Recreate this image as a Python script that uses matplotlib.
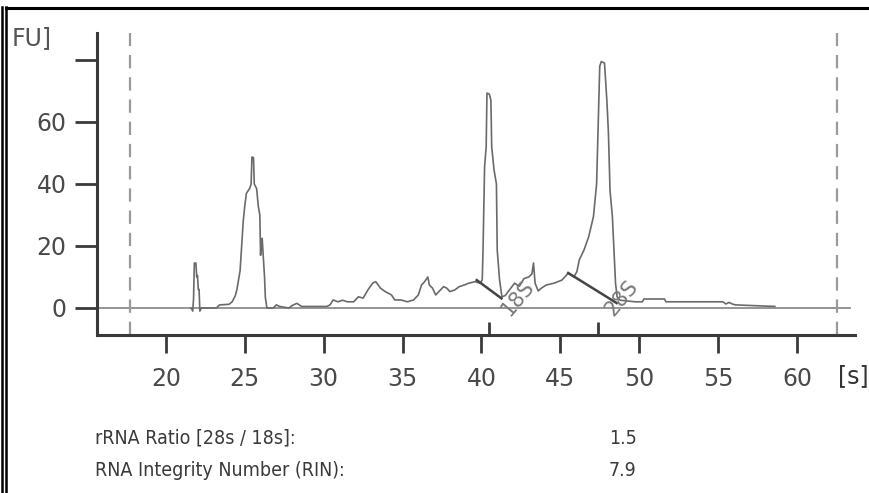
import matplotlib.pyplot as plt
from matplotlib.lines import Line2D

# electropherogram trace (time in s, fluorescence FU)
time_s = [21.6, 21.7, 21.75, 21.8, 21.9, 21.95, 22.0, 22.05, 22.1, 22.15, 22.25,
          23.2, 23.4, 24.0, 24.2, 24.4, 24.5, 24.6, 24.7, 24.8, 24.9, 25.0, 25.1,
          25.3, 25.4, 25.45, 25.55, 25.6, 25.75, 25.85, 25.95, 26.0, 26.05, 26.1,
          26.15, 26.25, 26.3, 26.4, 26.8, 27.0, 27.2, 27.8, 28.0, 28.3, 28.6, 29.2,
          30.2, 30.4, 30.6, 30.9, 31.2, 31.5, 31.9, 32.2, 32.5, 32.8, 33.1, 33.3,
          33.6, 33.9, 34.3, 34.5, 34.9, 35.3, 35.7, 36.0, 36.2, 36.4, 36.6, 36.7,
          36.9, 37.1, 37.3, 37.6, 37.8, 38.0, 38.3, 38.6, 38.9, 39.2, 39.6, 39.9,
          40.05, 40.1, 40.2, 40.3, 40.35, 40.5, 40.6, 40.65, 40.8, 40.95, 41.0,
          41.15, 41.3, 41.5, 41.8, 42.1, 42.4, 42.7, 43.0, 43.2, 43.3, 43.4, 43.6,
          43.8, 44.1, 44.6, 45.1, 45.5, 45.85, 46.05, 46.2, 46.5, 46.8, 47.1, 47.3,
          47.4, 47.5, 47.6, 47.8, 47.95, 48.05, 48.15, 48.3, 48.4, 48.5, 48.6, 48.8,
          49.75, 50.2, 50.3, 51.6, 51.7, 55.3, 55.5, 55.7, 55.9, 56.1, 58.6]
fu = [0, -1, 3, 14.5, 14.5, 10, 10.5, 6, 6, -1, 0,
      0, 1, 1.2, 2, 4, 6, 9, 12, 20, 28, 33, 37,
      38.5, 40, 48.7, 48.5, 40, 38.5, 33, 30, 17, 22, 22.5,
      18.5, 10, 3.5, 0, 0, 1, 0.5, 0, 0.8, 1.5, 0.5, 0.5,
      0.5, 1, 2.6, 2, 2.5, 2, 2, 3.6, 3.2, 5.8, 8, 8.5,
      6.4, 5.3, 4.2, 2.6, 2.6, 2, 2.6, 4.2, 7.4, 8.5, 10, 7.4,
      6.4, 4.2, 5.3, 6.9, 6.4, 5.3, 5.8, 6.9, 7.4, 8, 8.5, 8,
      9, 18.7, 45.6, 52, 69.3, 69, 67, 52, 44.5, 40, 18.7,
      9, 3.6, 4, 6, 8, 7, 9.5, 10, 11, 14.5, 8, 5.5,
      6.4, 7.4, 8, 9, 11.2, 10, 11.7, 15.5, 18.7, 23, 29.5, 40,
      58.5, 78, 79.5, 79, 67, 56.5, 38, 29.5, 18.7, 8, 3.6, 2.5,
      2, 2, 2.9, 2.9, 2, 2, 1.3, 1.8, 1.3, 1, 0.5]

# peak integration baselines (start/end points)
base_18s_x = [39.7, 41.27]
base_18s_y = [9, 3.1]
base_28s_x = [45.5, 48.57]
base_28s_y = [11.3, 1.6]

peak_marks = [40.5, 47.4]
peak_names = ['18S', '28S']
peak_label_x = [42.3, 48.9]

window = [17.7, 62.55]

x_ticks = [20, 25, 30, 35, 40, 45, 50, 55, 60]
y_ticks = [0, 20, 40, 60, 80]
y_labels = ['0', '20', '40', '60', '']

result_names = ['rRNA Ratio [28s / 18s]:', 'RNA Integrity Number (RIN):']
result_values = ['1.5', '7.9']

W, H = 869, 493
fig = plt.figure(figsize=(W / 100, H / 100), dpi=100)
ax = fig.add_axes([97 / W, 1 - 335 / H, (855 - 97) / W, (335 - 33) / H])
ax.set_xlim(15.63, 63.68)
ax.set_ylim(-8.71, 88.7)

for s in ['top', 'right']:
    ax.spines[s].set_visible(False)
for s in ['left', 'bottom']:
    ax.spines[s].set_linewidth(2.2)
    ax.spines[s].set_color('#3a3a3a')

ax.set_xticks(x_ticks)
ax.set_yticks(y_ticks)
ax.set_yticklabels(y_labels)
ax.tick_params(axis='both', direction='out', width=2, color='#3a3a3a',
               labelsize=17, labelcolor='#4a4a4a')
ax.tick_params(axis='y', length=16, pad=6)
ax.tick_params(axis='x', length=13, pad=10)

# zero line and window markers
ax.plot([15.63, 63.37], [0, 0], color='#8c8c8c', lw=1.3, zorder=1)
for xv in window:
    ax.plot([xv, xv], [-8.71, 88.7], color='#9a9a9a', lw=1.6,
            dashes=(6, 4), zorder=1)

ax.plot(time_s, fu, color='#6a6a6a', lw=1.2, zorder=3)
ax.plot(base_18s_x, base_18s_y, color='#454545', lw=1.8, zorder=4)
ax.plot(base_28s_x, base_28s_y, color='#454545', lw=1.8, zorder=4)

for xm, name, xl in zip(peak_marks, peak_names, peak_label_x):
    ax.vlines(xm, -8.71, -4.5, color='#3a3a3a', lw=2, clip_on=False)
    ax.text(xl, 3.2, name, rotation=50, fontsize=15, color='#7a7a7a',
            ha='center', va='center', zorder=5)

fig.text(12 / W, 1 - 38 / H, 'FU]', fontsize=17, color='#555555',
         ha='left', va='center')
fig.text(838 / W, 1 - 376 / H, '[s]', fontsize=17, color='#333333',
         ha='left', va='center')

for i, (name, val) in enumerate(zip(result_names, result_values)):
    yy = 1 - (438 + 33 * i) / H
    fig.text(95 / W, yy, name, fontsize=14, color='#3a3a3a',
             family='DejaVu Sans', fontstretch='condensed',
             ha='left', va='center')
    fig.text(609 / W, yy, val, fontsize=14, color='#3a3a3a',
             family='DejaVu Sans', fontstretch='condensed',
             ha='left', va='center')

# outer frame of the screenshot
for x0 in [1.5, 6]:
    fig.add_artist(Line2D([x0 / W, x0 / W], [0, 1 - 7 / H], color='black',
                          lw=1.8, transform=fig.transFigure))
fig.add_artist(Line2D([6 / W, 1], [1 - 8 / H, 1 - 8 / H], color='black',
                      lw=2.2, transform=fig.transFigure))

fig.savefig('out.png', dpi=100)
